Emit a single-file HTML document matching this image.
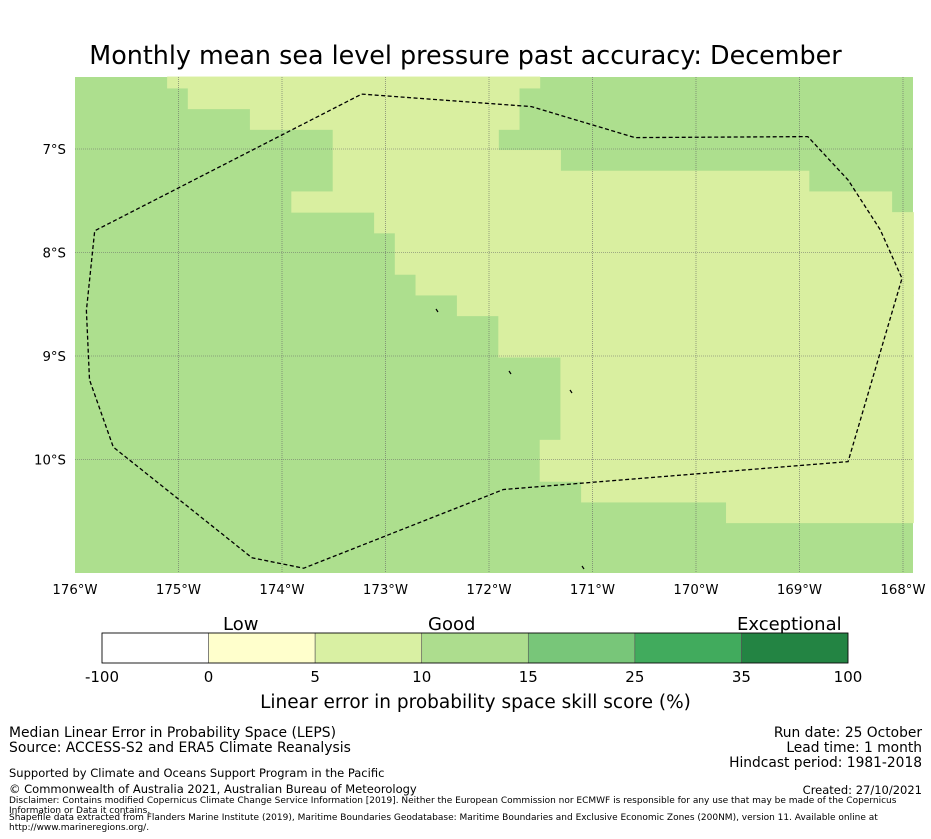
<!DOCTYPE html>
<html><head><meta charset="utf-8">
<style>
body{margin:0;background:#fff;font-family:"DejaVu Sans","Liberation Sans",sans-serif;}
#wrap{position:relative;width:931px;height:839px;overflow:hidden;}
.t{position:absolute;white-space:nowrap;color:#000;}
</style></head>
<body>
<div id="wrap">
<div class="t" style="left:0;width:931px;text-align:center;top:40px;font-size:25.4px;">Monthly mean sea level pressure past accuracy: December</div>
<svg id="map" width="931" height="839" style="position:absolute;left:0;top:0"></svg>
<div class="t" style="left:223px;top:614px;font-size:18px;">Low</div>
<div class="t" style="left:428px;top:614px;font-size:18px;">Good</div>
<div class="t" style="left:737px;top:614px;font-size:18px;">Exceptional</div>
<div class="t" style="left:10px;width:931px;text-align:center;top:692px;font-size:18.5px;">Linear error in probability space skill score (%)</div>
<div class="t" style="left:9px;top:725px;font-size:13.9px;">Median Linear Error in Probability Space (LEPS)</div>
<div class="t" style="left:9px;top:740px;font-size:13.9px;">Source: ACCESS-S2 and ERA5 Climate Reanalysis</div>
<div class="t" style="left:9px;top:766px;font-size:11.5px;">Supported by Climate and Oceans Support Program in the Pacific</div>
<div class="t" style="left:9px;top:782px;font-size:11.5px;">© Commonwealth of Australia 2021, Australian Bureau of Meteorology</div>
<div class="t" style="left:9px;top:796px;font-size:9px;line-height:10px;white-space:normal;width:915px;">Disclaimer: Contains modified Copernicus Climate Change Service Information [2019]. Neither the European Commission nor ECMWF is responsible for any use that may be made of the Copernicus Information or Data it contains.</div>
<div class="t" style="left:9px;top:813px;font-size:9px;line-height:10px;white-space:normal;width:915px;">Shapefile data extracted from Flanders Marine Institute (2019), Maritime Boundaries Geodatabase: Maritime Boundaries and Exclusive Economic Zones (200NM), version 11. Available online at http://www.marineregions.org/.</div>
<div class="t" style="right:9px;top:725px;font-size:13.8px;text-align:right;">Run date: 25 October</div>
<div class="t" style="right:9px;top:740px;font-size:13.8px;">Lead time: 1 month</div>
<div class="t" style="right:9px;top:755px;font-size:13.8px;">Hindcast period: 1981-2018</div>
<div class="t" style="right:9px;top:783px;font-size:11.5px;">Created: 27/10/2021</div>
</div>
<script>
const lonTicks=[-176,-175,-174,-173,-172,-171,-170,-169,-168];
const latTicks=[-7,-8,-9,-10];
// light-category rows: [latTop, latBottom, lonFrom, lonTo]
const lightRows=[
[-6.30,-6.41,-175.11,-171.51],[-6.41,-6.61,-174.91,-171.71],[-6.61,-6.81,-174.31,-171.71],
[-6.81,-7.01,-173.51,-171.91],[-7.01,-7.21,-173.51,-171.31],[-7.21,-7.41,-173.51,-168.91],
[-7.41,-7.61,-173.91,-168.11],[-7.61,-7.81,-173.11,-167.90],[-7.81,-8.21,-172.91,-167.90],
[-8.21,-8.41,-172.71,-167.90],[-8.41,-8.61,-172.31,-167.90],[-8.61,-9.01,-171.91,-167.90],
[-9.01,-9.81,-171.31,-167.90],[-9.81,-10.21,-171.51,-167.90],[-10.21,-10.41,-171.11,-167.90],
[-10.41,-10.61,-169.71,-167.90]];
const eezLon=[-173.23,-171.59,-170.59,-168.92,-168.53,-168.22,-168.01,-168.53,-171.86,-173.79,-174.29,-175.63,-175.86,-175.89,-175.81,-173.23];
const eezLat=[-6.47,-6.59,-6.89,-6.88,-7.30,-7.78,-8.25,-10.02,-10.29,-11.05,-10.95,-9.88,-9.23,-8.56,-7.79,-6.47];
const cbColors=['#ffffff','#ffffcc','#d9f0a3','#addd8e','#78c679','#41ab5d','#238443'];
const cbLabels=['-100','0','5','10','15','25','35','100'];

const X0=75,X1=913,Y0=77,Y1=573,PX=103.5;
const xs=lon=>X0+(lon+176)*PX;
const ys=lat=>149+(-7-lat)*PX;
const NS='http://www.w3.org/2000/svg';
const FF='DejaVu Sans, Liberation Sans, sans-serif';
const svg=document.getElementById('map');
function mk(tag,at,parent){const e=document.createElementNS(NS,tag);for(const k in at)e.setAttribute(k,at[k]);(parent||svg).appendChild(e);return e;}
const bg=mk('rect',{x:X0,y:Y0,width:X1-X0,height:Y1-Y0,fill:'#addf8e'});


lightRows.forEach((r,i)=>{
 const x=xs(r[2]),y=ys(r[0]);
 const c=mk('rect',{x:x,y:y,width:xs(r[3])-x+0.5,height:ys(r[1])-y+0.5,fill:'#d9efa0'});
 
 
});
lonTicks.forEach(l=>{
 const x=xs(l);
 if(x>X0+1&&x<X1){const g=mk('line',{x1:x,x2:x,y1:Y0,y2:Y1,stroke:'#666',"stroke-width":0.6,"stroke-dasharray":'1,1'});
 
 }
 const t=mk('text',{x:x,y:594,"font-size":13.3,"text-anchor":'middle',"font-family":FF});
 t.textContent=(-l)+'°W';
 
 
});
latTicks.forEach(l=>{
 const y=ys(l);
 const g=mk('line',{x1:X0,x2:X1,y1:y,y2:y,stroke:'#666',"stroke-width":0.6,"stroke-dasharray":'1,1'});
 
 
 const t=mk('text',{x:66,y:y+5,"font-size":13.3,"text-anchor":'end',"font-family":FF});
 t.textContent=(-l)+'°S';
 
 
});
const pts=eezLon.map((l,i)=>xs(l).toFixed(1)+','+ys(eezLat[i]).toFixed(1)).join(' ');
const eez=mk('polyline',{points:pts,fill:'none',stroke:'#000',"stroke-width":1.3,"stroke-dasharray":'4,2.5'});


[[437,311],[510,373],[571,392],[583,568]].forEach(p=>{
 const s=mk('path',{d:`M${p[0]-1},${p[1]-2} l2,3`,stroke:'#000',"stroke-width":1.2});
 
 
});
const cbX=102,cbW=746,cbY=633,cbH=30,seg=cbW/cbColors.length;
cbColors.forEach((c,i)=>{
 const r=mk('rect',{x:cbX+i*seg,y:cbY,width:seg,height:cbH,fill:c,stroke:'#555',"stroke-width":0.6});
 
 
});
const ob=mk('rect',{x:cbX,y:cbY,width:cbW,height:cbH,fill:'none',stroke:'#000',"stroke-width":0.8});


cbLabels.forEach((t,i)=>{
 const e=mk('text',{x:cbX+i*seg,y:682,"font-size":15,"text-anchor":'middle',"font-family":FF});
 e.textContent=t;
 
 
});
</script>
</body></html>
